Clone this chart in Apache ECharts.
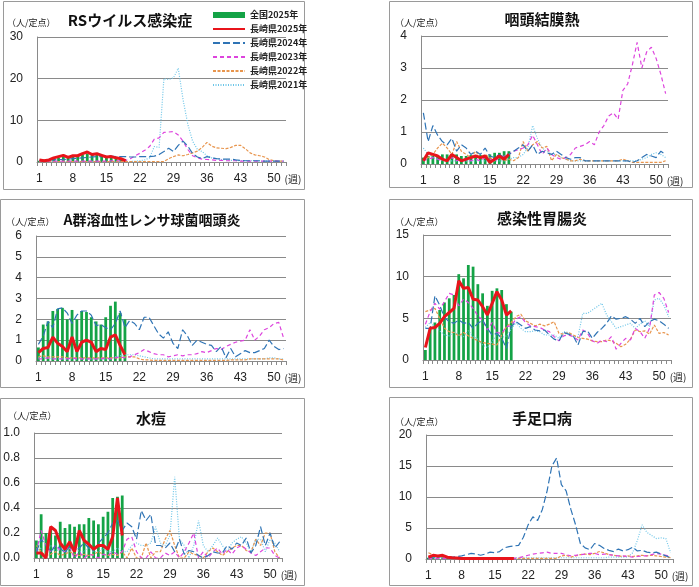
<!DOCTYPE html>
<html><head><meta charset="utf-8">
<script src="https://cdn.jsdelivr.net/npm/echarts@6/dist/echarts.min.js"></script>
<style>html,body{margin:0;padding:0;background:#fff}#c{width:699px;height:587px}</style>
</head><body><div id="c"></div>
<script>
// ---------- categories / names ----------
const weeks = ['1','2','3','4','5','6','7','8','9','10','11','12','13','14','15','16','17','18','19','20','21','22','23','24','25','26','27','28','29','30','31','32','33','34','35','36','37','38','39','40','41','42','43','44','45','46','47','48','49','50','51','52'];
const seriesNames = ['全国2025年','長崎県2025年','長崎県2024年','長崎県2023年','長崎県2022年','長崎県2021年'];
const titles = ['RSウイルス感染症','咽頭結膜熱','A群溶血性レンサ球菌咽頭炎','感染性胃腸炎','水痘','手足口病'];
const yMax = [30,4,6,15,1.0,20];
const yStep = [10,1,1,5,0.2,5];

// ---------- RSウイルス感染症 ----------
const rs_nat25 = [0.3,0.4,0.5,0.8,1.0,1.2,1.1,1.3,1.5,1.8,2.0,1.7,1.7,1.4,1.2,1.0,0.8,0.6,0.4];
const rs_pref25 = [0.5,0.3,0.5,1.0,1.3,1.6,1.1,1.5,1.5,2.0,2.4,1.8,2.0,1.6,1.2,1.3,1.0,0.8,0.3];
const rs_24 = [0.4,0.4,0.5,0.5,0.6,0.6,0.7,0.8,0.9,1.0, 1.1,1.2,1.3,1.3,1.4,1.4,1.3,1.3,1.3,1.2, 1.2,1.3,1.3,1.3,1.4,1.8,2.5,3.3,2.5,4.0, 5.0,3.8,2.0,1.2,0.8,1.3,1.0,0.8,0.7,0.7, 0.7,0.5,0.4,0.3,0.3,0.3,0.3,0.2,0.2,0.2, 0.2,0.2];
const rs_23 = [0.2,0.2,0.2,0.2,0.2,0.2,0.2,0.2,0.2,0.2, 0.2,0.2,0.2,0.2,0.2,0.3,0.3,0.3,0.4,0.8, 1.5,2.1,2.8,3.7,5.5,5.8,7.1,7.2,7.3,6.5, 5.0,3.0,1.5,1.0,0.7,0.6,0.5,0.4,0.4,0.3, 0.3,0.3,0.2,0.2,0.2,0.2,0.2,0.2,0.2,0.2, 0.2,0.2];
const rs_22 = [0.1,0.1,0.1,0.1,0.1,0.1,0.1,0.1,0.1,0.1, 0.1,0.1,0.1,0.1,0.1,0.1,0.1,0.1,0.1,0.1, 0.1,0.1,0.1,0.1,0.1,0.1,0.1,0.8,1.3,1.7, 1.5,1.8,2.2,2.6,3.5,4.7,3.8,3.4,3.3,3.2, 3.5,4.0,4.0,3.2,2.2,1.7,1.5,1.2,0.6,0.3, 0.2,0.2];
const rs_21 = [0.1,0.1,0.1,0.1,0.1,0.1,0.1,0.1,0.1,0.1, 0.1,0.1,0.1,0.1,0.1,0.1,0.1,0.1,0.1,0.1, 0.2,0.3,0.5,1.0,3.7,3.5,20.0,19.8,20.2,22.5, 15.0,9.0,5.0,3.0,2.5,1.5,1.0,0.8,0.6,0.5, 0.4,0.4,0.3,0.3,0.3,0.3,0.2,0.2,0.2,0.2, 0.2,0.2];

// ---------- 咽頭結膜熱 ----------
const pcf_nat25 = [0.2,0.25,0.25,0.25,0.3,0.3,0.3,0.3,0.25,0.25,0.28,0.28,0.28,0.28,0.3,0.35,0.35,0.4,0.4];
const pcf_pref25 = [0.1,0.35,0.3,0.25,0.15,0.1,0.3,0.2,0.1,0.15,0.2,0.25,0.2,0.25,0.05,0.15,0.25,0.15,0.3];
const pcf_24 = [1.6,0.7,1.2,0.9,0.7,0.6,0.8,0.4,0.6,0.5, 0.3,0.4,0.3,0.5,0.25,0.2,0.3,0.2,0.3,0.4, 0.5,0.6,0.4,0.6,0.3,0.4,0.35,0.3,0.4,0.3, 0.2,0.15,0.2,0.2,0.1,0.1,0.1,0.1,0.1,0.1, 0.1,0.1,0.1,0.1,0.05,0.1,0.2,0.3,0.25,0.2, 0.4,0.3];
const pcf_23 = [0.1,0.15,0.2,0.15,0.1,0.15,0.2,0.1,0.15,0.1, 0.1,0.15,0.1,0.2,0.15,0.1,0.2,0.25,0.3,0.4, 0.45,0.5,0.6,0.9,0.6,0.3,0.5,0.3,0.2,0.15, 0.2,0.3,0.5,0.55,0.6,0.7,0.6,1.0,1.2,1.5, 1.6,1.4,2.3,2.5,3.1,3.8,3.0,3.5,3.65,3.3, 2.8,2.2];
const pcf_22 = [0.1,0.2,0.3,0.5,0.65,0.5,0.3,0.7,0.4,0.3, 0.2,0.4,0.2,0.3,0.2,0.1,0.2,0.1,0.15,0.1, 0.2,0.7,0.4,0.6,0.7,0.5,0.55,0.1,0.3,0.2, 0.15,0.1,0.1,0.15,0.1,0.1,0.1,0.1,0.1,0.1, 0.1,0.1,0.15,0.1,0.05,0.05,0.05,0.05,0.05,0.05, 0.05,0.1];
const pcf_21 = [0.5,0.3,0.2,0.15,0.1,0.1,0.1,0.1,0.1,0.1, 0.1,0.1,0.1,0.1,0.1,0.1,0.1,0.1,0.15,0.2, 0.2,0.3,0.5,1.2,0.8,0.5,0.4,0.3,0.3,0.2, 0.15,0.1,0.1,0.1,0.1,0.1,0.1,0.1,0.1,0.1, 0.1,0.1,0.1,0.1,0.1,0.1,0.15,0.2,0.3,0.35, 0.3,0.2];

// ---------- A群溶血性レンサ球菌咽頭炎 ----------
const gas_nat25 = [0.65,1.75,1.9,2.4,2.5,2.55,2.0,2.45,2.0,2.4,2.35,2.1,1.9,1.75,2.1,2.65,2.85,2.3,2.0];
const gas_pref25 = [0.4,0.6,0.65,1.15,0.85,0.7,0.45,1.15,0.45,0.9,1.0,0.9,0.45,0.6,0.55,1.15,1.25,0.75,0.3];
const gas_24 = [0.8,1.2,1.9,1.6,2.5,2.55,2.3,1.8,2.2,2.4, 2.4,2.2,1.7,1.75,1.6,1.5,1.8,2.4,1.6,1.95, 1.8,1.5,2.1,2.1,1.7,1.3,1.1,1.4,0.85,0.6, 1.5,1.2,0.75,1.0,0.9,0.8,0.75,0.45,0.7,0.15, 0.6,0.2,0.35,0.5,0.4,0.4,0.5,0.6,1.0,0.7, 0.55,0.6];
const gas_23 = [0.1,0.1,0.15,0.1,0.1,0.1,0.1,0.15,0.1,0.1, 0.1,0.1,0.1,0.1,0.15,0.1,0.15,0.2,0.15,0.2, 0.3,0.4,0.55,0.45,0.35,0.3,0.3,0.2,0.25,0.3, 0.25,0.3,0.3,0.35,0.45,0.4,0.5,0.6,0.55,0.7, 0.8,0.9,0.95,1.0,1.5,1.0,1.2,1.5,1.6,1.8, 1.85,1.1];
const gas_22 = [0.2,0.25,0.2,0.2,0.2,0.2,0.15,0.15,0.15,0.15, 0.15,0.15,0.15,0.15,0.15,0.15,0.15,0.15,0.2,0.2, 0.2,0.1,0.05,0.05,0.03,0.03,0.03,0.03,0.03,0.03, 0.03,0.03,0.03,0.03,0.03,0.03,0.03,0.03,0.03,0.03, 0.05,0.05,0.05,0.05,0.1,0.1,0.1,0.1,0.1,0.1, 0.1,0.05];
const gas_21 = [0.15,0.2,0.15,0.1,0.1,0.1,0.1,0.1,0.1,0.1, 0.1,0.1,0.1,0.1,0.1,0.1,0.2,0.25,0.3,0.3, 0.3,0.25,0.2,0.15,0.1,0.1,0.1,0.1,0.1,0.1, 0.1,0.1,0.1,0.1,0.1,0.1,0.1,0.1,0.1,0.1, 0.1,0.1,0.1,0.1,0.1,0.1,0.1,0.1,0.15,0.15, 0.1,0.1];

// ---------- 感染性胃腸炎 ----------
const ge_nat25 = [1.2,3.7,4.5,6.0,6.9,7.4,7.8,10.3,9.8,11.4,11.2,9.1,8.0,6.5,8.3,8.6,8.4,6.7,5.8];
const ge_pref25 = [1.5,3.8,3.9,4.4,5.2,5.7,6.2,9.5,8.6,8.7,7.3,7.2,6.4,5.4,6.8,8.2,7.2,5.4,5.9];
const ge_24 = [3.8,3.8,7.7,6.6,5.1,4.6,4.4,4.8,4.4,4.5, 3.8,4.4,4.8,3.8,3.0,3.2,2.6,1.4,4.0,4.6, 4.2,3.8,4.0,3.6,3.5,3.6,3.0,2.5,2.3,3.3, 3.1,2.9,1.8,3.4,3.5,2.6,3.3,3.8,4.4,5.3, 4.9,5.0,5.2,4.9,4.4,5.0,4.0,4.6,4.9,4.7, 4.3,3.8];
const ge_23 = [4.3,5.8,6.8,6.1,7.0,8.0,7.8,6.5,7.3,6.9, 6.2,5.3,4.8,3.6,4.5,3.3,3.2,4.0,4.1,4.9, 5.2,4.5,4.1,4.0,3.9,3.6,3.4,2.8,2.3,2.9, 3.0,2.8,2.4,3.6,3.2,2.3,2.0,2.4,2.2,2.8, 1.3,2.0,2.6,2.4,3.8,3.4,2.6,3.8,7.8,8.1, 7.4,5.7];
const ge_22 = [5.8,6.0,6.2,5.0,3.8,3.4,3.3,2.9,3.3,2.9, 2.6,2.3,2.1,2.0,1.9,1.8,3.0,4.0,4.5,5.2, 5.5,4.7,4.4,4.1,4.3,4.1,4.3,4.6,3.2,3.1, 3.3,3.0,2.7,2.6,2.5,2.3,2.2,2.2,2.4,2.3, 2.0,1.6,1.9,2.5,3.6,3.4,3.5,3.1,4.2,3.2, 3.3,3.0];
const ge_21 = [3.9,4.5,4.0,3.5,3.0,2.9,3.4,3.0,2.8,3.5, 2.8,2.5,1.8,1.5,2.2,3.1,2.7,2.9,3.7,4.5, 3.8,3.4,3.4,3.5,3.4,3.0,3.0,3.0,2.6,3.4, 3.3,2.8,2.8,5.6,5.6,6.0,6.4,6.8,5.4,4.6, 3.8,4.0,4.2,4.4,3.8,4.3,4.7,4.0,7.2,7.4, 6.6,5.2];

// ---------- 水痘 ----------
const vz_nat25 = [0.14,0.35,0.2,0.24,0.18,0.29,0.24,0.27,0.25,0.27,0.27,0.32,0.3,0.27,0.33,0.37,0.48,0.49,0.5];
const vz_pref25 = [0.04,0.04,0.0,0.25,0.22,0.12,0.07,0.13,0.05,0.22,0.14,0.11,0.07,0.1,0.1,0.07,0.17,0.48,0.18];
const vz_24 = [0.05,0.15,0.1,0.05,0.1,0.08,0.04,0.1,0.05,0.08, 0.12,0.08,0.06,0.12,0.16,0.2,0.28,0.3,0.22,0.28, 0.25,0.15,0.38,0.3,0.35,0.1,0.1,0.08,0.12,0.05, 0.15,0.03,0.06,0.05,0.02,0.0,0.02,0.05,0.04,0.04, 0.1,0.07,0.12,0.1,0.16,0.04,0.1,0.25,0.1,0.2, 0.08,0.13];
const vz_23 = [0.05,0.22,0.1,0.05,0.1,0.06,0.05,0.08,0.0,0.05, 0.0,0.03,0.02,0.0,0.03,0.02,0.05,0.03,0.05,0.15, 0.17,0.05,0.0,0.0,0.05,0.0,0.0,0.04,0.02,0.05, 0.0,0.05,0.12,0.2,0.0,0.05,0.0,0.05,0.08,0.03, 0.07,0.03,0.08,0.1,0.07,0.04,0.02,0.05,0.08,0.08, 0.02,0.0];
const vz_22 = [0.1,0.05,0.02,0.03,0.05,0.02,0.03,0.05,0.03,0.02, 0.03,0.02,0.03,0.05,0.03,0.02,0.03,0.02,0.05,0.0, 0.08,0.0,0.0,0.12,0.0,0.05,0.05,0.15,0.22,0.1, 0.0,0.0,0.05,0.03,0.02,0.0,0.05,0.08,0.05,0.02, 0.05,0.08,0.1,0.1,0.06,0.05,0.15,0.1,0.2,0.2, 0.05,0.0];
const vz_21 = [0.05,0.08,0.05,0.1,0.05,0.08,0.05,0.05,0.08,0.05, 0.05,0.08,0.05,0.05,0.08,0.05,0.05,0.08,0.05,0.05, 0.1,0.12,0.1,0.1,0.12,0.25,0.12,0.1,0.18,0.65, 0.15,0.1,0.0,0.1,0.3,0.1,0.05,0.1,0.16,0.1, 0.05,0.12,0.15,0.17,0.12,0.05,0.15,0.15,0.05,0.15, 0.12,0.05];

// ---------- 手足口病 ----------
const hf_nat25 = [0.2,0.25,0.3,0.3,0.25,0.2,0.15,0.15,0.15,0.15,0.15,0.15,0.15,0.15,0.15,0.15,0.15,0.15,0.15];
const hf_pref25 = [0.3,0.6,0.5,0.6,0.3,0.2,0.15,0.1,0.1,0.1,0.1,0.1,0.1,0.1,0.1,0.1,0.1,0.1,0.1];
const hf_24 = [0.2,0.3,0.3,0.4,0.3,0.3,0.4,0.5,0.7,0.9, 0.8,0.6,0.8,1.1,1.0,1.2,1.8,2.0,2.1,2.2, 3.5,5.5,6.8,6.2,8.0,11.0,15.0,16.3,12.0,11.0, 8.0,5.5,2.5,1.8,1.5,2.5,2.2,1.7,1.4,1.2, 1.6,1.3,1.5,1.9,1.3,1.4,1.1,1.0,1.1,0.8, 0.5,0.2];
const hf_23 = [0.1,0.1,0.1,0.1,0.1,0.1,0.1,0.1,0.1,0.1, 0.1,0.1,0.1,0.1,0.1,0.1,0.1,0.1,0.1,0.2, 0.4,0.6,0.8,0.9,1.0,1.1,0.9,0.9,0.9,0.7, 0.5,0.6,0.7,0.8,0.9,0.9,0.7,0.8,0.7,0.6, 0.5,0.5,0.4,0.3,0.4,0.5,0.5,0.7,0.9,0.8, 0.6,0.4];
const hf_22 = [1.0,0.7,0.5,0.3,0.2,0.1,0.1,0.1,0.1,0.1, 0.1,0.1,0.1,0.1,0.1,0.1,0.1,0.1,0.1,0.1, 0.1,0.1,0.1,0.1,0.1,0.1,0.1,0.1,0.5,0.6, 0.3,0.5,0.7,0.8,0.7,0.9,1.2,1.0,0.7,0.6, 0.5,0.4,0.5,0.4,0.5,0.6,0.5,0.6,0.5,0.4, 0.3,0.2];
const hf_21 = [0.2,0.2,0.2,0.2,0.2,0.2,0.2,0.2,0.2,0.2, 0.2,0.2,0.2,0.2,0.2,0.2,0.2,0.2,0.2,0.2, 0.2,0.2,0.2,0.2,0.2,0.2,0.2,0.2,0.2,0.2, 0.2,0.2,0.2,0.2,0.2,0.2,0.2,0.2,0.3,0.3, 0.3,0.3,0.3,1.0,3.0,5.5,4.3,3.8,3.3,3.4, 3.3,1.0];

const panelData = [
  [rs_nat25, rs_pref25, rs_24, rs_23, rs_22, rs_21],
  [pcf_nat25, pcf_pref25, pcf_24, pcf_23, pcf_22, pcf_21],
  [gas_nat25, gas_pref25, gas_24, gas_23, gas_22, gas_21],
  [ge_nat25, ge_pref25, ge_24, ge_23, ge_22, ge_21],
  [vz_nat25, vz_pref25, vz_24, vz_23, vz_22, vz_21],
  [hf_nat25, hf_pref25, hf_24, hf_23, hf_22, hf_21]
];

// ---------- layout (positions/styles) ----------
const layout = [
  {box:[3,1,301,188],  grid:[37,37,249,125],  title:[130,20,15], unit:[7,23]},
  {box:[389,1,303,186],grid:[421,36,247,128], title:[542,19,15], unit:[395,23]},
  {box:[0,199,304,188],grid:[36,236,250,125], title:[152,220,14], unit:[6,222]},
  {box:[389,199,303,188],grid:[423,235,248,125],title:[542,218,15], unit:[395,222]},
  {box:[0,398,304,187],grid:[34,433,248,125], title:[151,418,15], unit:[8,416]},
  {box:[389,397,303,188],grid:[426,435,247,124],title:[542,418,15], unit:[395,422]}
];
const lineStyles = [
  null,
  {color:'#e8141b', width:3, type:'solid'},
  {color:'#2f74b5', width:1.2, type:[7,3]},
  {color:'#dd44dd', width:1.2, type:[4,3]},
  {color:'#e8954d', width:1.2, type:[3,1.5]},
  {color:'#6cc5e8', width:1.2, type:[1,1.5]}
];
const barColor = '#14a346';
const jp = '"Noto Sans CJK JP", sans-serif';
const num = '"Liberation Sans", Arial, sans-serif';

const grid=[], xAxis=[], yAxis=[], series=[], graphic=[];
layout.forEach((L,i)=>{
  grid.push({left:L.grid[0], top:L.grid[1], width:L.grid[2], height:L.grid[3], containLabel:false});
  xAxis.push({
    type:'category', gridIndex:i, data:weeks, boundaryGap:true,
    axisLine:{lineStyle:{color:'#8a8a8a'}},
    axisTick:{show:true, interval:0, length:4, lineStyle:{color:'#8a8a8a'}},
    axisLabel:{interval:(idx)=>idx%7===0, margin:11, fontSize:12, color:'#222', fontFamily:num},
    name:'(週)', nameLocation:'end', nameGap:-5,
    nameTextStyle:{fontSize:10, color:'#222', fontFamily:jp, verticalAlign:'top', align:'left', padding:[12,0,0,0]}
  });
  yAxis.push({
    type:'value', gridIndex:i, min:0, max:yMax[i], interval:yStep[i],
    axisLine:{show:true, lineStyle:{color:'#8a8a8a'}},
    axisTick:{show:false},
    splitLine:{lineStyle:{color:'#8a8a8a', width:1}},
    axisLabel:{margin:14, fontSize:12, color:'#222', fontFamily:num,
      formatter: i===4 ? (v)=>v.toFixed(1) : (v)=>String(v)}
  });
  const D = panelData[i];
  series.push({name:seriesNames[0], type:'bar', xAxisIndex:i, yAxisIndex:i, data:D[0],
    barWidth:'58%', itemStyle:{color:barColor}, z:2});
  for (const k of [5,4,3,2,1]) {
    series.push({name:seriesNames[k], type:'line', xAxisIndex:i, yAxisIndex:i, data:D[k],
      symbol:'none', showSymbol:false, lineStyle:lineStyles[k], itemStyle:{color:lineStyles[k].color},
      z: k===1 ? 10 : 3+(5-k)});
  }
  graphic.push({type:'rect', shape:{x:L.box[0]+0.5, y:L.box[1]+0.5, width:L.box[2], height:L.box[3]},
    style:{fill:'none', stroke:'#9a9a9a', lineWidth:1}, silent:true, z:-1});
  graphic.push({type:'text', x:L.title[0], y:L.title[1],
    style:{text:titles[i], textAlign:'center', textVerticalAlign:'middle',
      font:'bold '+L.title[2]+'px '+jp, fill:'#111'}});
  graphic.push({type:'text', x:L.unit[0], y:L.unit[1],
    style:{text:'（人/定点）', textAlign:'left', textVerticalAlign:'middle',
      font:'9px '+jp, fill:'#222'}});
});

const hideSym = {opacity:0};
const chart = echarts.init(document.getElementById('c'), null, {renderer:'canvas'});
chart.setOption({
  animation:false,
  backgroundColor:'#fff',
  grid, xAxis, yAxis, series, graphic,
  legend:{
    orient:'vertical', left:207, top:5, itemWidth:32, itemHeight:6, itemGap:4,
    data:[
      {name:seriesNames[0], icon:'rect', itemStyle:{opacity:1}},
      {name:seriesNames[1], itemStyle:hideSym},
      {name:seriesNames[2], itemStyle:hideSym},
      {name:seriesNames[3], itemStyle:hideSym},
      {name:seriesNames[4], itemStyle:hideSym},
      {name:seriesNames[5], itemStyle:hideSym}
    ],
    textStyle:{fontSize:9, fontWeight:'bold', color:'#222', fontFamily:jp, lineHeight:10}
  }
});
</script>
</body></html>
